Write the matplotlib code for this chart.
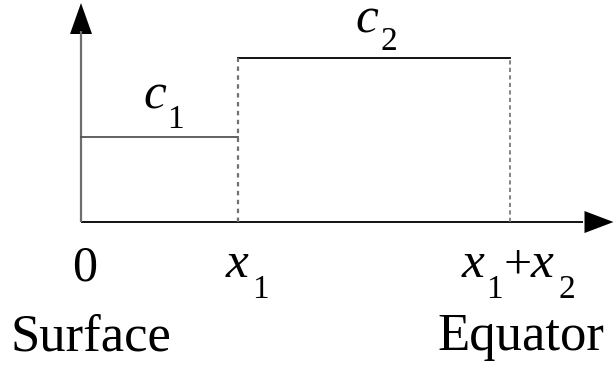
import matplotlib
matplotlib.use("Agg")
import matplotlib.pyplot as plt
from matplotlib.patches import Polygon

plt.rcParams['font.family'] = ['Liberation Serif', 'DejaVu Serif']
plt.rcParams['mathtext.fontset'] = 'custom'
plt.rcParams['mathtext.rm'] = 'Liberation Serif'
plt.rcParams['mathtext.it'] = 'Liberation Serif:italic'

# data (piecewise constant profile)
x1 = 1.0
x2 = 1.73
c1 = 1.0
c2 = 1.93
tick_positions = [0, x1, x1 + x2]
end_labels = ['Surface', 'Equator']

fig = plt.figure(figsize=(6.14, 3.69), dpi=100)
ax = fig.add_axes([0, 0, 1, 1])
ax.set_xlim(-0.516, 3.395)
ax.set_ylim(-1.729, 2.612)
ax.axis('off')

# axes lines
ax.plot([0, 3.2], [0, 0], color='black', lw=1.3, solid_capstyle='butt')
ax.plot([0, 0], [0, 2.25], color='#6e6e6e', lw=1.6, solid_capstyle='butt')

# arrow heads
px_x = 1 / 157.0
px_y = 1 / 85.0
xa_tip = 3.395 - 0.5 * px_x
ax.add_patch(Polygon([[xa_tip, 0], [xa_tip - 29 * px_x, 11 * px_y],
                      [xa_tip - 29 * px_x, -11 * px_y]], closed=True,
                     facecolor='black', edgecolor='none'))
ya_tip = 2.612 - 3 * px_y
ax.add_patch(Polygon([[0, ya_tip], [-11 * px_x, ya_tip - 31 * px_y],
                      [11 * px_x, ya_tip - 31 * px_y]], closed=True,
                     facecolor='black', edgecolor='none'))

# profile
ax.plot([0, x1], [c1, c1], color='#555555', lw=1.3)
ax.plot([x1, x1 + x2], [c2, c2], color='black', lw=1.3)
ax.plot([x1, x1], [0, c2], color='#707070', lw=1.6, ls=(0, (2.0, 2.0)))
ax.plot([x1 + x2, x1 + x2], [0, c2], color='#707070', lw=1.2, ls=(0, (2.5, 2.0)))

IT = 37   # italic letter size
SUB = 24  # subscript size
UP = 36   # upright numerals
PLUS = 36


def put(anchor, txt, dx, dy, size, ha='left', va='baseline'):
    ax.annotate(txt, anchor, xytext=(dx, dy), textcoords='offset pixels',
                ha=ha, va=va, fontsize=size)


# level labels c1, c2
a1 = (x1 / 2, c1)
put(a1, r'$c$', -17, 30, IT)
put(a1, '1', 8, 9, SUB)
a2 = (x1 + x2 / 2, c2)
put(a2, r'$c$', -19, 26, IT)
put(a2, '2', 7, 8, SUB)

# tick labels
p0 = (tick_positions[0], 0)
put(p0, '0', 4, -58, UP, ha='center')
p1 = (tick_positions[1], 0)
put(p1, r'$x$', -13, -55, IT)
put(p1, '1', 14, -76, SUB)
p2 = (tick_positions[2], 0)
put(p2, r'$x$', -49, -55, IT)
put(p2, '1', -23, -76, SUB)
put(p2, '+', 8, -44, PLUS, ha='center', va='center')
put(p2, r'$x$', 20, -55, IT)
put(p2, '2', 49, -76, SUB)

# end labels
put(p0, end_labels[0], -71, -128, 38)
put(p2, end_labels[1], 95, -128, 38, ha='right')

fig.savefig('out.png', dpi=100)
